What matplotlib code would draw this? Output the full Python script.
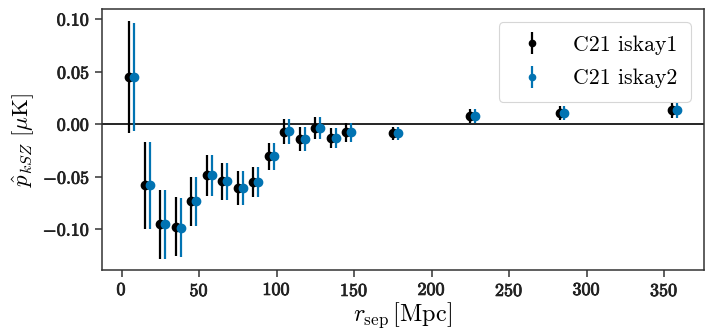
import numpy as np
import matplotlib
matplotlib.use("Agg")
import matplotlib.pyplot as plt
import matplotlib.patheffects as pe
from matplotlib.ticker import FuncFormatter

# separation bins [Mpc]
r_sep = [5, 15, 25, 35, 45, 55, 65, 75, 85, 95, 105, 115, 125, 135, 145, 175, 225, 282.5, 355]

# pairwise kSZ estimates [muK]
p_iskay1 = [0.0448, -0.0584, -0.0955, -0.0978, -0.0733, -0.0489, -0.0546, -0.0610, -0.0552,
            -0.0308, -0.0073, -0.0143, -0.0041, -0.0130, -0.0079, -0.0089, 0.0076, 0.0105, 0.0133]
err_iskay1 = [0.0530, 0.0418, 0.0325, 0.0282, 0.0234, 0.0195, 0.0178, 0.0160, 0.0146,
              0.0130, 0.0120, 0.0112, 0.0105, 0.0097, 0.0090, 0.0060, 0.0065, 0.0065, 0.0072]

p_iskay2 = [0.0448, -0.0584, -0.0955, -0.0985, -0.0733, -0.0489, -0.0546, -0.0610, -0.0552,
            -0.0308, -0.0068, -0.0143, -0.0036, -0.0130, -0.0079, -0.0089, 0.0076, 0.0105, 0.0133]
err_iskay2 = [0.0510, 0.0410, 0.0330, 0.0280, 0.0234, 0.0195, 0.0178, 0.0160, 0.0146,
              0.0130, 0.0120, 0.0112, 0.0105, 0.0097, 0.0090, 0.0060, 0.0065, 0.0065, 0.0072]

offset = 3.0  # horizontal shift so the two series do not overlap

plt.rcParams["font.family"] = "serif"
plt.rcParams["font.serif"] = ["cmr10"]
plt.rcParams["mathtext.fontset"] = "cm"
plt.rcParams["axes.unicode_minus"] = False

fig = plt.figure(figsize=(7.13, 3.36), dpi=100)
ax = fig.add_axes([0.143, 0.196, 0.844, 0.777])

ax.errorbar(r_sep, p_iskay1, yerr=err_iskay1, fmt="o", color="black",
            ms=6, elinewidth=1.6, capsize=0, label="C21 iskay1", zorder=3)
ax.errorbar(np.array(r_sep) + offset, p_iskay2, yerr=err_iskay2, fmt="o", color="#0173b2",
            ms=6, elinewidth=1.6, capsize=0, label="C21 iskay2", zorder=3)
ax.axhline(0, color="black", lw=1.2, zorder=2)

ax.set_xlim(-12.7, 375.5)
ax.set_ylim(-0.139, 0.1095)
ax.set_xticks([0, 50, 100, 150, 200, 250, 300, 350])
ax.set_yticks([-0.10, -0.05, 0.0, 0.05, 0.10])
ax.xaxis.set_major_formatter(FuncFormatter(lambda v, p: r"$\mathbf{%d}$" % v))
ax.yaxis.set_major_formatter(FuncFormatter(lambda v, p: r"$\mathbf{%.2f}$" % v))
ax.tick_params(labelsize=13, length=5, width=1.1, color="#333333")
for lab in ax.get_xticklabels() + ax.get_yticklabels():
    lab.set_path_effects([pe.withStroke(linewidth=0.6, foreground="#222222")])
    lab.set_color("#222222")
for s in ax.spines.values():
    s.set_color("#333333")
    s.set_linewidth(1.1)

ax.set_xlabel(r"$r_{\rm sep}\,[\rm Mpc]$", fontsize=17.5, labelpad=1)
ax.set_ylabel(r"$\hat{p}_{kSZ}\ [\mu\rm K]$", fontsize=16.5, labelpad=4)

leg = ax.legend(loc="upper right", fontsize=15.7, frameon=True, fancybox=True,
                borderpad=0.6, handlelength=1.8, handletextpad=1.0, labelspacing=0.65,
                borderaxespad=0.6, markerscale=0.75)
leg.get_frame().set_edgecolor("#cccccc")
leg.get_frame().set_linewidth(0.8)

fig.savefig("out.png", dpi=100)
